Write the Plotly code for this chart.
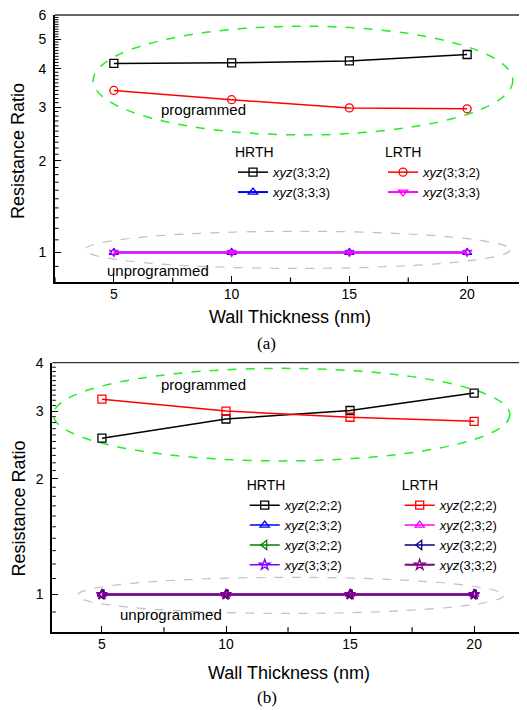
import math
import plotly.graph_objects as go

# ---------------- data ----------------
wall = [5, 10, 15, 20]

# panel (a)
a_hrth_332 = [4.17, 4.19, 4.25, 4.46]
a_hrth_333 = [1.0, 1.0, 1.0, 1.0]
a_lrth_332 = [3.40, 3.17, 2.98, 2.96]
a_lrth_333 = [1.0, 1.0, 1.0, 1.0]

# panel (b)
b_hrth_222 = [2.55, 2.86, 3.01, 3.34]
b_hrth_232 = [1.0, 1.0, 1.0, 1.0]
b_hrth_322 = [1.0, 1.0, 1.0, 1.0]
b_hrth_332 = [1.0, 1.0, 1.0, 1.0]
b_lrth_222 = [3.22, 3.00, 2.89, 2.82]
b_lrth_232 = [1.0, 1.0, 1.0, 1.0]
b_lrth_322 = [1.0, 1.0, 1.0, 1.0]
b_lrth_332 = [1.0, 1.0, 1.0, 1.0]

x_ticks = [5, 10, 15, 20]
x_minor = [2.5, 7.5, 12.5, 17.5, 22.5]
a_yticks = [1, 2, 3, 4, 5, 6]
b_yticks = [1, 2, 3, 4]


def minor_vals(top):
    vals = [0.9]
    for m in range(1, top):
        vals += [round(m + k / 10, 2) for k in range(1, 10)]
    return vals


FONT = "Liberation Sans, Arial, sans-serif"
fig = go.Figure()


def add(x, y, name, color, symbol, xa, ya, legend, width=1.5, size=8):
    fig.add_trace(go.Scatter(
        x=x, y=y, mode="lines+markers", name=name,
        line=dict(color=color, width=width),
        marker=dict(symbol=symbol, size=size, color=color,
                    line=dict(color=color, width=1.3)),
        xaxis=xa, yaxis=ya, legend=legend))


lab = lambda s: "<i>xyz</i>" + s

# panel (a)
add(wall, a_hrth_332, lab("(3;3;2)"), "#000000", "square-open", "x", "y", "legend")
add(wall, a_hrth_333, lab("(3;3;3)"), "#0000ff", "triangle-up-open", "x", "y", "legend", 2)
add(wall, a_lrth_332, lab("(3;3;2)"), "#ff0000", "circle-open", "x", "y", "legend2")
add(wall, a_lrth_333, lab("(3;3;3)"), "#ff00ff", "triangle-down-open", "x", "y", "legend2", 2)

# panel (b)
add(wall, b_hrth_222, lab("(2;2;2)"), "#000000", "square-open", "x2", "y2", "legend3")
add(wall, b_hrth_232, lab("(2;3;2)"), "#0000ff", "triangle-up-open", "x2", "y2", "legend3")
add(wall, b_hrth_322, lab("(3;2;2)"), "#008000", "triangle-left-open", "x2", "y2", "legend3")
add(wall, b_hrth_332, lab("(3;3;2)"), "#8000ff", "star-open", "x2", "y2", "legend3")
add(wall, b_lrth_222, lab("(2;2;2)"), "#ff0000", "square-open", "x2", "y2", "legend4")
add(wall, b_lrth_232, lab("(2;3;2)"), "#ff00ff", "triangle-up-open", "x2", "y2", "legend4")
add(wall, b_lrth_322, lab("(3;2;2)"), "#000080", "triangle-left-open", "x2", "y2", "legend4")
add(wall, b_lrth_332, lab("(3;3;2)"), "#800080", "star-open", "x2", "y2", "legend4", 2)

# the page body has an 8px margin, so the figure starts 8px in from the window corner
OFF = 8
SW, SH = 527, 710
W, H = SW - OFF, SH - OFF
px = lambda v: (v - OFF) / W          # window x pixel -> paper
py = lambda v: (SH - v) / H            # window y pixel -> paper

axis_common = dict(showgrid=False, zeroline=False, showline=True, linecolor="black",
                   linewidth=2, ticks="inside", ticklen=6, tickwidth=1.2, tickcolor="black",
                   automargin=False, ticklabeloverflow="allow",
                   tickfont=dict(family=FONT, size=14, color="black"))

A_X = [55, 526]
A_Y = [282, 15]
B_X = [52.3, 525]
B_Y = [631.7, 362.7]
EPS = 0.0008

fig.update_layout(
    width=W, height=H, margin=dict(l=0, r=0, t=0, b=0, autoexpand=False),
    paper_bgcolor="white", plot_bgcolor="white", showlegend=True,
    xaxis=dict(axis_common, domain=[px(A_X[0]), px(A_X[1])], range=[2.5, 22.5], anchor="y",
               tickvals=x_ticks, ticklabelstandoff=-2),
    yaxis=dict(axis_common, domain=[py(A_Y[0]), py(A_Y[1])], type="log", anchor="x",
               range=[math.log10(0.8), math.log10(6) + EPS], tickvals=a_yticks,
               ticklabelstandoff=4),
    xaxis2=dict(axis_common, domain=[px(B_X[0]), px(B_X[1])], range=[3, 22.05], anchor="y2",
                tickvals=x_ticks, ticklabelstandoff=-2),
    yaxis2=dict(axis_common, domain=[py(B_Y[0]), py(B_Y[1])], type="log", anchor="x2",
                range=[math.log10(0.8), math.log10(4) + EPS], tickvals=b_yticks,
                ticklabelstandoff=4),
)

LF = 13
leg_common = dict(bgcolor="rgba(0,0,0,0)", borderwidth=0, xanchor="left", yanchor="top",
                  font=dict(family=FONT, size=LF, color="black"), tracegroupgap=0,
                  itemwidth=30)
tfont = dict(family=FONT, size=14, color="black")
fig.update_layout(
    legend=dict(leg_common, x=px(233), y=py(139), title=dict(text="HRTH", font=tfont)),
    legend2=dict(leg_common, x=px(383), y=py(139), title=dict(text="LRTH", font=tfont)),
    legend3=dict(leg_common, x=px(244.7), y=py(472), title=dict(text="HRTH", font=tfont)),
    legend4=dict(leg_common, x=px(399.7), y=py(472), title=dict(text="LRTH", font=tfont)),
)

# ellipses and top frame lines
shapes = [
    dict(type="circle", xref="x domain", yref="y domain", x0=0.081, x1=0.972, y0=0.551, y1=0.958,
         line=dict(color="#22ee22", width=1.5, dash="dash"), layer="below"),
    dict(type="circle", xref="x domain", yref="y domain", x0=0.064, x1=0.966, y0=0.051, y1=0.19,
         line=dict(color="#c0c0c0", width=1.2, dash="dash"), layer="below"),
    dict(type="circle", xref="x2 domain", yref="y2 domain", x0=0.002, x1=0.968, y0=0.635, y1=0.979,
         line=dict(color="#22ee22", width=1.5, dash="dash"), layer="below"),
    dict(type="circle", xref="x2 domain", yref="y2 domain", x0=0.053, x1=0.954, y0=0.068, y1=0.202,
         line=dict(color="#c0c0c0", width=1.2, dash="dash"), layer="below"),
    dict(type="line", xref="x domain", yref="y domain", x0=0, x1=1, y0=1, y1=1,
         line=dict(color="#333333", width=1.3)),
    dict(type="line", xref="x2 domain", yref="y2 domain", x0=0, x1=1, y0=1, y1=1,
         line=dict(color="#333333", width=1.3)),
]


# minor ticks (drawn as short tick lines on the axes)
def minor_ticks(xa, ya, xpix, ypix, ymin_vals, xmin_vals):
    wpx = xpix[1] - xpix[0]
    hpx = ypix[0] - ypix[1]
    out = []
    for v in ymin_vals:
        out.append(dict(type="line", xref=xa + " domain", yref=ya, x0=0, x1=3.5 / wpx,
                        y0=v, y1=v, line=dict(color="black", width=1)))
    for v in xmin_vals:
        out.append(dict(type="line", xref=xa, yref=ya + " domain", x0=v, x1=v,
                        y0=0, y1=4.5 / hpx, line=dict(color="black", width=1.2)))
    return out


shapes += minor_ticks("x", "y", A_X, A_Y, minor_vals(6), x_minor)
shapes += minor_ticks("x2", "y2", B_X, B_Y, minor_vals(4), x_minor[1:4])
fig.update_layout(shapes=shapes)


def ann(text, x, y, size=15, family=FONT, angle=0):
    fig.add_annotation(text=text, x=px(x), y=py(y), xref="paper", yref="paper",
                       showarrow=False, xanchor="center", yanchor="middle", textangle=angle,
                       font=dict(family=family, size=size, color="black"))


ann("programmed", 203, 109)
ann("unprogrammed", 158.3, 270)
ann("programmed", 203.3, 385)
ann("unprogrammed", 170.7, 614)
ann("Wall Thickness (nm)", 290, 316.7, size=18)
ann("Wall Thickness (nm)", 288.7, 673, size=18)
ann("Resistance Ratio", 18.5, 151.5, size=18, angle=-90)
ann("Resistance Ratio", 18.5, 509, size=18, angle=-90)
ann("(a)", 266.7, 343, size=17, family="Liberation Serif, Times New Roman, serif")
ann("(b)", 266.7, 697, size=17, family="Liberation Serif, Times New Roman, serif")

fig.write_html("out.html")
